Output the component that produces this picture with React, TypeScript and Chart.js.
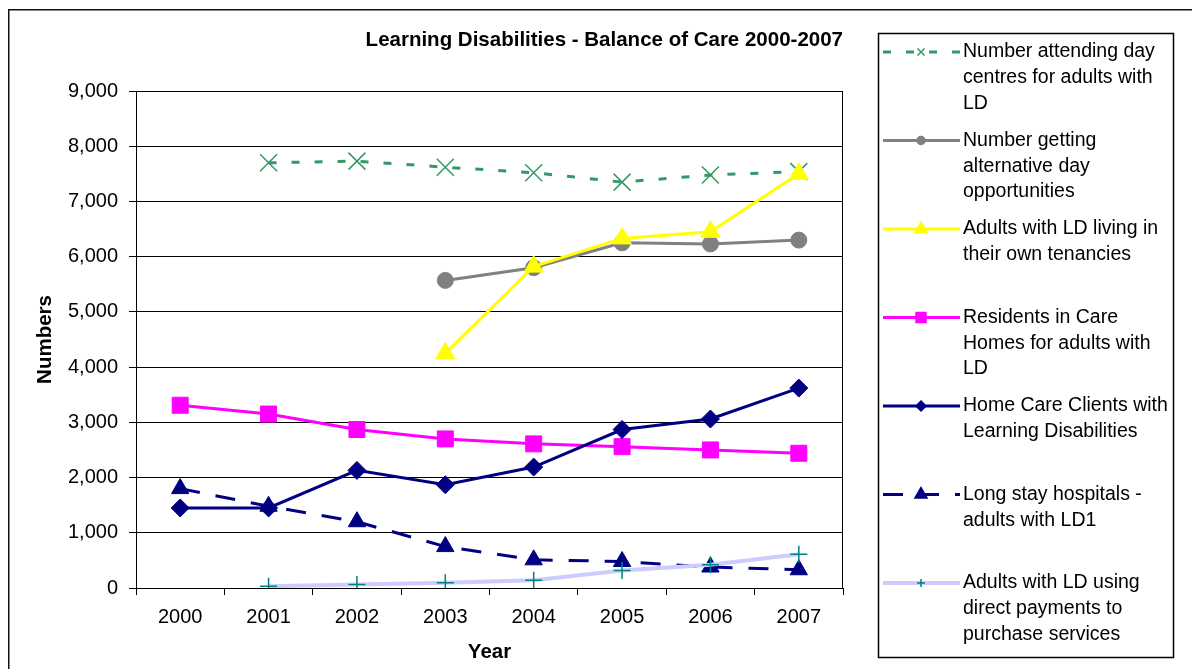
import { useEffect, useRef } from 'react';
import { Chart, registerables } from 'chart.js';
import { drawPoint } from 'chart.js/helpers';

Chart.register(...registerables);

// ---------- data ----------
const YEARS = ['2000', '2001', '2002', '2003', '2004', '2005', '2006', '2007'];

const DAY_CENTRES = [null, 7700, 7730, 7620, 7520, 7350, 7480, 7540];
const ALT_DAY_OPPS = [null, null, null, 5570, 5800, 6250, 6230, 6300];
const OWN_TENANCIES = [null, null, null, 4250, 5820, 6330, 6450, 7500];
const CARE_HOMES = [3310, 3150, 2870, 2700, 2610, 2560, 2500, 2440];
const HOME_CARE = [1450, 1450, 2130, 1870, 2190, 2870, 3060, 3620];
const LONG_STAY = [1800, 1480, 1200, 750, 510, 480, 380, 330];
const DIRECT_PAYMENTS = [null, 30, 65, 95, 140, 315, 420, 610];

const Y_MIN = 0;
const Y_MAX = 9000;
const Y_STEP = 1000;

const CHART_TITLE = 'Learning Disabilities - Balance of Care 2000-2007';
const X_TITLE = 'Year';
const Y_TITLE = 'Numbers';

const LEGEND_LINES = [
  ['Number attending day', 'centres for adults with', 'LD'],
  ['Number getting', 'alternative day', 'opportunities'],
  ['Adults with LD living in', 'their own tenancies'],
  ['Residents in Care', 'Homes for adults with', 'LD'],
  ['Home Care Clients with', 'Learning Disabilities'],
  ['Long stay hospitals -', 'adults with LD1'],
  ['Adults with LD using', 'direct payments to', 'purchase services'],
];

const SERIES_DATA = [DAY_CENTRES, ALT_DAY_OPPS, OWN_TENANCIES, CARE_HOMES, HOME_CARE, LONG_STAY, DIRECT_PAYMENTS];

// ---------- styles ----------
const FONT = '"Liberation Sans", Arial, sans-serif';
const STYLES = [
  { line: '#339966', marker: '#339966', dash: [8, 15], width: 3, style: 'crossRot', radius: 12, fill: false, lRadius: 5 },
  { line: '#808080', marker: '#808080', dash: [], width: 3, style: 'circle', radius: 8, fill: true, lRadius: 4 },
  { line: '#FFFF00', marker: '#FFFF00', dash: [], width: 3, style: 'triangle', radius: 11, fill: true, lRadius: 7 },
  { line: '#FF00FF', marker: '#FF00FF', dash: [], width: 3, style: 'rect', radius: 11.3, fill: true, lRadius: 7 },
  { line: '#000080', marker: '#000080', dash: [], width: 3, style: 'rectRot', radius: 9, fill: true, lRadius: 5 },
  { line: '#000080', marker: '#000080', dash: [20, 16], width: 3, style: 'triangle', radius: 10, fill: true, lRadius: 7 },
  { line: '#CCCCFF', marker: '#008080', dash: [], width: 4, style: 'cross', radius: 8.5, fill: false, lRadius: 4 },
];

const frameAndLegend = {
  id: 'frameAndLegend',
  beforeDatasetsDraw(chart: any) {
    const { ctx, chartArea } = chart;
    ctx.save();
    ctx.strokeStyle = '#000';
    ctx.lineWidth = 1;
    ctx.strokeRect(chartArea.left + 0.5, chartArea.top + 0.5, chartArea.right - chartArea.left - 1, chartArea.bottom - chartArea.top);
    ctx.restore();
  },
  afterDraw(chart: any) {
    const { ctx } = chart;
    ctx.save();
    // outer frame
    ctx.fillStyle = '#111';
    ctx.fillRect(8, 9, 1192 - 8, 1.5);
    ctx.fillRect(8, 9, 1.5, 669 - 9);

    // legend box
    ctx.strokeStyle = '#000';
    ctx.lineWidth = 1.5;
    ctx.strokeRect(878.5, 33.5, 295, 624);

    const sx0 = 883;
    const sx1 = 960;
    const mx = 921;
    const tx = 963;
    ctx.font = `19.5px ${FONT}`;
    ctx.textAlign = 'left';
    ctx.textBaseline = 'middle';
    LEGEND_LINES.forEach((lines, i) => {
      const st = STYLES[i];
      const y0 = 52 + i * 88.5;
      ctx.save();
      ctx.strokeStyle = st.line;
      ctx.lineWidth = st.width;
      ctx.setLineDash(st.dash);
      ctx.beginPath();
      ctx.moveTo(sx0, y0);
      ctx.lineTo(sx1, y0);
      ctx.stroke();
      ctx.setLineDash([]);
      ctx.fillStyle = st.marker;
      ctx.strokeStyle = st.marker;
      ctx.lineWidth = 1.5;
      drawPoint(ctx, { pointStyle: st.style, radius: st.lRadius, borderWidth: 1.5, rotation: 0 } as any, mx, y0);
      ctx.restore();
      ctx.fillStyle = '#000';
      lines.forEach((t, j) => ctx.fillText(t, tx, y0 + j * 25.8));
    });
    ctx.restore();
  },
};

const bgPlugin = {
  id: 'bg',
  beforeDraw(chart: any) {
    const { ctx, width, height } = chart;
    ctx.save();
    ctx.fillStyle = '#fff';
    ctx.fillRect(0, 0, width, height);
    ctx.restore();
  },
};

export default function App() {
  const ref = useRef<HTMLCanvasElement | null>(null);

  useEffect(() => {
    if (!ref.current) return;
    const datasets = SERIES_DATA.map((data, i) => {
      const st = STYLES[i];
      return {
        label: LEGEND_LINES[i].join(' '),
        data,
        borderColor: st.line,
        borderWidth: st.width,
        borderDash: st.dash,
        backgroundColor: st.marker,
        pointStyle: st.style,
        pointRadius: st.radius,
        pointBackgroundColor: st.fill ? st.marker : 'rgba(0,0,0,0)',
        pointBorderColor: st.marker,
        pointBorderWidth: st.fill ? 1 : 1.5,
        tension: 0,
        fill: false,
        spanGaps: false,
        order: SERIES_DATA.length - 1 - i,
      };
    });

    const chart = new Chart(ref.current, {
      type: 'line',
      data: { labels: YEARS, datasets: datasets as any },
      plugins: [bgPlugin, frameAndLegend],
      options: {
        responsive: false,
        animation: false,
        devicePixelRatio: 1,
        layout: { padding: { left: 0, right: 349, top: 0, bottom: 0 } },
        plugins: {
          legend: { display: false },
          tooltip: { enabled: false },
          title: {
            display: true,
            text: CHART_TITLE,
            align: 'end',
            color: '#000',
            font: { family: FONT, size: 20.5, weight: 'bold' },
            padding: { top: 28, bottom: 38.4 },
          },
        },
        scales: {
          x: {
            type: 'category',
            offset: true,
            afterFit: (s: any) => { s.height = 81; },
            grid: { display: true, drawOnChartArea: false, drawTicks: true, tickLength: 7, color: '#000', offset: true },
            border: { display: true, color: '#000', width: 1 },
            ticks: { color: '#000', font: { family: FONT, size: 20 }, padding: 10, maxRotation: 0, autoSkip: false },
            title: { display: true, text: X_TITLE, color: '#000', font: { family: FONT, size: 20.5, weight: 'bold' }, padding: { top: 0, bottom: 4 } },
          },
          y: {
            min: Y_MIN,
            max: Y_MAX,
            afterFit: (s: any) => { s.width = 136; },
            grid: { display: true, drawTicks: true, tickLength: 7, color: '#000', lineWidth: 1 },
            border: { display: true, color: '#000', width: 1 },
            ticks: {
              stepSize: Y_STEP,
              color: '#000',
              font: { family: FONT, size: 20 },
              padding: 11,
              callback: (v: any) => Number(v).toLocaleString('en-US'),
            },
            title: { display: true, text: Y_TITLE, color: '#000', font: { family: FONT, size: 20.5, weight: 'bold' }, padding: { top: 33, bottom: 0 } },
          },
        },
      },
    });
    return () => chart.destroy();
  }, []);

  return (
    <div style={{ position: 'fixed', left: 0, top: 0, width: 1192, height: 669, background: '#fff' }}>
      <canvas ref={ref} width={1192} height={669} style={{ display: 'block', width: 1192, height: 669 }} />
    </div>
  );
}
